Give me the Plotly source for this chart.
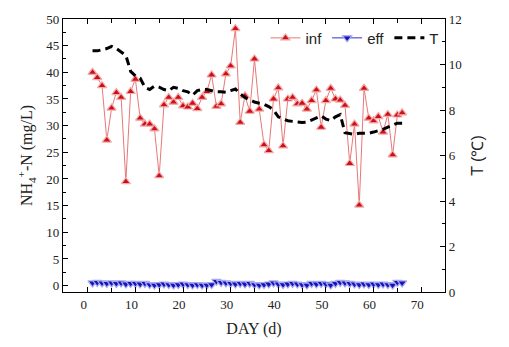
import plotly.graph_objects as go

days = list(range(1, 67))

inf = [40.0, 39.0, 37.5, 27.3, 33.3, 36.2, 35.3, 19.5, 36.4, 38.7,
       31.4, 30.3, 30.3, 29.4, 20.6, 33.9, 35.3, 34.4, 35.3, 33.7,
       33.5, 34.2, 33.2, 35.3, 36.4, 39.5, 33.6, 34.1, 39.7, 41.2,
       48.2, 30.6, 35.6, 32.7, 42.5, 33.1, 26.4, 25.3, 35.0, 37.1,
       26.2, 35.0, 35.3, 34.1, 34.2, 33.1, 34.7, 36.7, 29.7, 34.7,
       37.0, 35.0, 34.8, 33.8, 22.9, 30.3, 15.1, 37.0, 31.4, 30.9,
       31.7, 28.8, 32.1, 24.5, 32.0, 32.4]

eff = [0.5, 0.6, 0.5, 0.4, 0.5, 0.4, 0.5, 0.3, 0.4, 0.4,
       0.3, 0.4, 0.2, 0.1, 0.2, 0.3, 0.2, 0.1, 0.2, 0.3,
       0.2, 0.1, 0.2, 0.1, 0.1, 0.2, 0.8, 0.6, 0.5, 0.4,
       0.3, 0.4, 0.3, 0.4, 0.2, 0.1, 0.2, 0.3, 0.5, 0.3,
       0.2, 0.3, 0.4, 0.3, 0.2, 0.1, 0.4, 0.3, 0.4, 0.3,
       0.1, 0.4, 0.6, 0.5, 0.4, 0.3, 0.2, 0.3, 0.2, 0.3,
       0.2, 0.3, 0.2, 0.1, 0.6, 0.5]

temp = [10.6, 10.6, 10.65, 10.7, 10.8, 10.7, 10.55, 10.4, 9.7, 9.5,
        9.4, 9.0, 8.9, 9.05, 9.0, 8.9, 8.85, 9.0, 8.95, 8.85,
        8.8, 8.65, 8.85, 8.9, 8.9, 8.85, 8.8, 8.8, 8.78, 8.85,
        8.92, 8.7, 8.55, 8.45, 8.35, 8.3, 8.25, 8.15, 8.0, 7.7,
        7.6, 7.53, 7.5, 7.46, 7.45, 7.47, 7.55, 7.65, 7.74, 7.6,
        7.53, 7.7, 7.8, 7.0, 6.95, 6.93, 6.98, 6.97, 6.98, 7.03,
        7.08, 7.15, 7.25, 7.35, 7.42, 7.42]

x_ticks = [0, 10, 20, 30, 40, 50, 60, 70]
y_ticks = [0, 5, 10, 15, 20, 25, 30, 35, 40, 45, 50]
y2_ticks = [0, 2, 4, 6, 8, 10, 12]

serif = "Liberation Serif"
sans = "Liberation Sans"

fig = go.Figure()
fig.add_trace(go.Scatter(
    x=days, y=inf, name="inf", mode="lines+markers",
    line=dict(color="#e87878", width=1),
    marker=dict(symbol="triangle-up", size=8, color="#cc1018",
                line=dict(color="#f4a8a8", width=1.2)),
))
fig.add_trace(go.Scatter(
    x=days, y=eff, name="eff", mode="lines+markers",
    line=dict(color="#3030d0", width=1),
    marker=dict(symbol="triangle-down", size=8, color="#1414b8",
                line=dict(color="#a8a8f0", width=1.2)),
))
fig.add_trace(go.Scatter(
    x=days, y=temp, name="T", mode="lines", yaxis="y2",
    line=dict(color="black", width=3, dash="8px,5px"),
))

axis_common = dict(showline=True, linecolor="black", linewidth=1.2,
                   showgrid=False, zeroline=False, ticks="inside",
                   tickcolor="black", tickwidth=1,
                   tickfont=dict(family=serif, size=13, color="#222"))

fig.update_layout(
    width=509, height=347,
    margin=dict(l=63, r=64, t=18, b=47),
    paper_bgcolor="white", plot_bgcolor="white",
    showlegend=True,
    legend=dict(orientation="h", x=0.53, y=0.93, xanchor="left", yanchor="middle",
                bgcolor="rgba(0,0,0,0)", font=dict(family=sans, size=15, color="#222"),
                itemwidth=30, tracegroupgap=0),
    xaxis=dict(**axis_common, range=[-5.2, 75], tickvals=x_ticks, ticklen=5,
               mirror="ticks", ticklabelshift=-4,
               minor=dict(ticks="inside", dtick=5, tick0=0, ticklen=4, tickcolor="black"),
               title=dict(text="DAY (d)", font=dict(family=serif, size=16, color="#222"),
                          standoff=12)),
    yaxis=dict(**axis_common, range=[-1.2, 50], tickvals=y_ticks, ticklen=5,
               minor=dict(ticks="inside", dtick=2.5, tick0=0, ticklen=3, tickcolor="black"),
               title=dict(text="NH<sub>4</sub><sup>+</sup>-N (mg/L)",
                          font=dict(family=serif, size=16, color="#222"), standoff=9)),
    yaxis2=dict(**axis_common, range=[0, 12], tickvals=y2_ticks, ticklen=5,
                overlaying="y", side="right",
                minor=dict(ticks="inside", dtick=1, tick0=0, ticklen=3, tickcolor="black"),
                title=dict(text="T (\u2103)", font=dict(family=sans, size=16, color="#222"),
                           standoff=11)),
)

fig.write_html("out.html")
